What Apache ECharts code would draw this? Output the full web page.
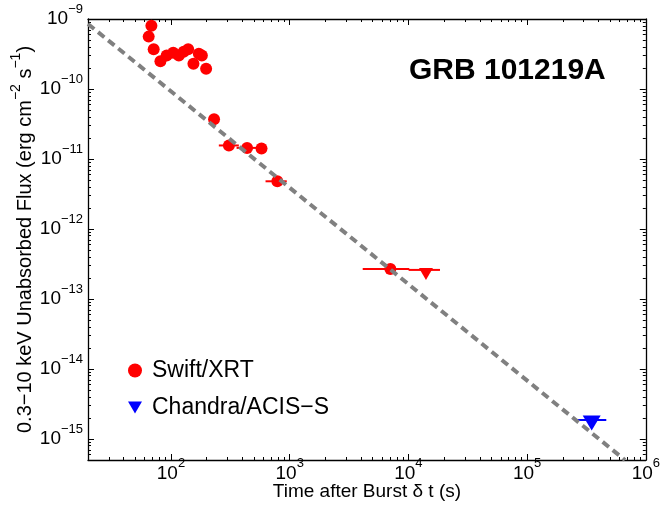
<!DOCTYPE html>
<html><head><meta charset="utf-8">
<script src="https://cdn.jsdelivr.net/npm/echarts@6/dist/echarts.min.js"></script>
<style>html,body{margin:0;padding:0;background:#fff}#c{width:663px;height:514px}</style>
</head><body><div id="c"></div>
<script>
// Swift/XRT detections
const swiftT   = [68.4, 64.9, 71.5, 81.5, 92, 104.4, 116.5, 127.9, 139.6, 154.6, 171.7, 182, 197.7, 230.6, 307.6, 437.5, 579, 787, 7047];
const swiftF   = [8.0e-10, 5.6e-10, 3.7e-10, 2.5e-10, 3.0e-10, 3.3e-10, 3.0e-10, 3.4e-10, 3.7e-10, 2.3e-10, 3.2e-10, 3.0e-10, 1.95e-10, 3.7e-11, 1.56e-11, 1.44e-11, 1.41e-11, 4.8e-12, 2.68e-13];
const swiftTLo = [68.4, 64.9, 71.5, 81.5, 92, 104.4, 116.5, 127.9, 139.6, 154.6, 171.7, 182, 197.7, 222, 253, 357, 560, 626, 4123];
const swiftTHi = [68.4, 64.9, 71.5, 81.5, 92, 104.4, 116.5, 127.9, 139.6, 154.6, 171.7, 182, 197.7, 240, 373, 526, 600, 945, 10176];
// Swift/XRT upper limit
const limT = [14060], limF = [2.6e-13], limTLo = [10040], limTHi = [18450];
// Chandra/ACIS-S upper limit
const chandraT = [350000], chandraF = [1.87e-15], chandraTLo = [251800], chandraTHi = [464500];
// power-law decay line (end points)
const fitT = [20, 667000], fitF = [8.5e-10, 5e-16];
// ticks
const xMajor = [1e2, 1e3, 1e4, 1e5, 1e6];
const yMajor = [1e-15, 1e-14, 1e-13, 1e-12, 1e-11, 1e-10, 1e-9];
const xMin = 20, xMax = 1e6, yMin = 5e-16, yMax = 1e-9;

const FONT = 'Liberation Sans';
const xMinor = [], yMinor = [];
[10, 100, 1e3, 1e4, 1e5].forEach(d => { for (let k = 2; k <= 9; k++) { const v = k * d; if (v > xMin && v < xMax) xMinor.push(v); } });
[1e-16, 1e-15, 1e-14, 1e-13, 1e-12, 1e-11, 1e-10].forEach(d => { for (let k = 2; k <= 9; k++) { const v = k * d; if (v > yMin * 1.01 && v < yMax) yMinor.push(v); } });

const supFmt = v => '{b|10}{s|' + String(Math.round(Math.log10(v))).replace('-', '\u2212') + '}';
const labelRich = {
  b: { fontSize: 19, fontFamily: FONT, color: '#000' },
  s: { fontSize: 13, fontFamily: FONT, color: '#000', padding: [0, 0, 20, 0] }
};
const lineStyle = { color: '#000', width: 1.3 };

function xAxisDef(pos, major, labels) {
  return {
    type: 'log', logBase: 10, min: xMin, max: xMax, position: pos,
    axisLine: { show: major, onZero: false, lineStyle },
    axisTick: { show: true, inside: true, length: major ? 6 : 3, customValues: major ? xMajor : xMinor, lineStyle: { color: '#000', width: 1 } },
    axisLabel: labels ? { show: true, customValues: xMajor, formatter: supFmt, rich: labelRich, margin: -3, hideOverlap: false } : { show: false },
    splitLine: { show: false }, minorTick: { show: false }
  };
}
function yAxisDef(pos, major, labels) {
  return {
    type: 'log', logBase: 10, min: yMin, max: yMax, position: pos,
    axisLine: { show: major, onZero: false, lineStyle },
    axisTick: { show: true, inside: true, length: major ? 6 : 3, customValues: major ? yMajor : yMinor, lineStyle: { color: '#000', width: 1 } },
    axisLabel: labels ? { show: true, customValues: yMajor, formatter: supFmt, rich: labelRich, margin: 5, hideOverlap: false } : { show: false },
    splitLine: { show: false }, minorTick: { show: false }
  };
}

const xAxes = [xAxisDef('bottom', true, true), xAxisDef('bottom', false, false), xAxisDef('top', true, false), xAxisDef('top', false, false)];
Object.assign(xAxes[0], { name: 'Time after Burst \u03b4 t (s)', nameLocation: 'middle', nameGap: 22, nameMoveOverlap: false,
  nameTextStyle: { fontSize: 19, fontFamily: FONT, color: '#000', verticalAlign: 'top' } });
const yAxes = [yAxisDef('left', true, true), yAxisDef('left', false, false), yAxisDef('right', true, false), yAxisDef('right', false, false)];
Object.assign(yAxes[0], { name: '0.3\u221210 keV Unabsorbed Flux (erg cm{s|\u22122} s{s|\u22121})', nameLocation: 'middle', nameGap: 47, nameMoveOverlap: false,
  nameTextStyle: { fontSize: 20, fontFamily: FONT, color: '#000',
    rich: { s: { fontSize: 14, fontFamily: FONT, color: '#000', padding: [0, 0, 18, 0] } } } });

const zip3 = (a, b, c) => a.map((v, i) => [v, b[i], c[i]]);
const errBar = color => (params, api) => {
  const p1 = api.coord([api.value(0), api.value(2)]);
  const p2 = api.coord([api.value(1), api.value(2)]);
  return { type: 'line', shape: { x1: p1[0], y1: p1[1], x2: p2[0], y2: p2[1] }, style: { stroke: color, lineWidth: 2 } };
};
const DOWN = 'path://M0,0L20,0L10,17Z';
const RED = '#ff0000', BLUE = '#0000ff';

const option = {
  animation: false,
  textStyle: { fontFamily: FONT },
  grid: { left: 88, right: 16, top: 19, bottom: 54, containLabel: false },
  title: { text: 'GRB 101219A', left: 409, top: 56, padding: 0,
    textStyle: { fontSize: 30, fontWeight: 'bold', fontFamily: FONT, color: '#000' } },
  legend: {
    orient: 'vertical', left: 128, top: 359, padding: 0, itemWidth: 14, itemHeight: 14, itemGap: 14,
    textStyle: { fontSize: 23, fontFamily: FONT, color: '#000', padding: [0, 0, 0, 5] },
    selectedMode: false,
    data: [{ name: 'Swift/XRT', icon: 'circle', itemStyle: { color: RED } }, { name: 'Chandra/ACIS\u2212S', icon: DOWN, itemStyle: { color: BLUE } }]
  },
  xAxis: xAxes,
  yAxis: yAxes,
  series: [
    { type: 'scatter', name: 'Swift/XRT', symbol: 'circle', symbolSize: 12, itemStyle: { color: RED, opacity: 1 },
      data: swiftT.map((t, i) => [t, swiftF[i]]), z: 3 },
    { type: 'scatter', name: 'Chandra/ACIS\u2212S', symbol: DOWN, symbolSize: [18, 15], symbolOffset: [0, 3], itemStyle: { color: BLUE, opacity: 1 },
      data: chandraT.map((t, i) => [t, chandraF[i]]), z: 3 },
    { type: 'scatter', name: 'Swift/XRT', symbol: DOWN, symbolSize: [14, 12], symbolOffset: [0, 4], itemStyle: { color: RED, opacity: 1 },
      data: limT.map((t, i) => [t, limF[i]]), z: 3 },
    { type: 'custom', name: 'Swift/XRT', renderItem: errBar(RED), itemStyle: { color: RED }, data: zip3(swiftTLo, swiftTHi, swiftF), encode: { x: [0, 1], y: 2 }, z: 2, silent: true },
    { type: 'custom', name: 'Swift/XRT', renderItem: errBar(RED), itemStyle: { color: RED }, data: zip3(limTLo, limTHi, limF), encode: { x: [0, 1], y: 2 }, z: 2, silent: true },
    { type: 'custom', name: 'Chandra/ACIS\u2212S', renderItem: errBar(BLUE), itemStyle: { color: BLUE }, data: zip3(chandraTLo, chandraTHi, chandraF), encode: { x: [0, 1], y: 2 }, z: 2, silent: true },
    { type: 'line', name: 'fit', data: fitT.map((t, i) => [t, fitF[i]]), showSymbol: false, symbol: 'none',
      lineStyle: { color: '#808080', width: 4, type: [8, 5] }, z: 4, silent: true }
  ]
};
const chart = echarts.init(document.getElementById('c'), null, { renderer: 'canvas' });
chart.setOption(option);
</script>
</body></html>
